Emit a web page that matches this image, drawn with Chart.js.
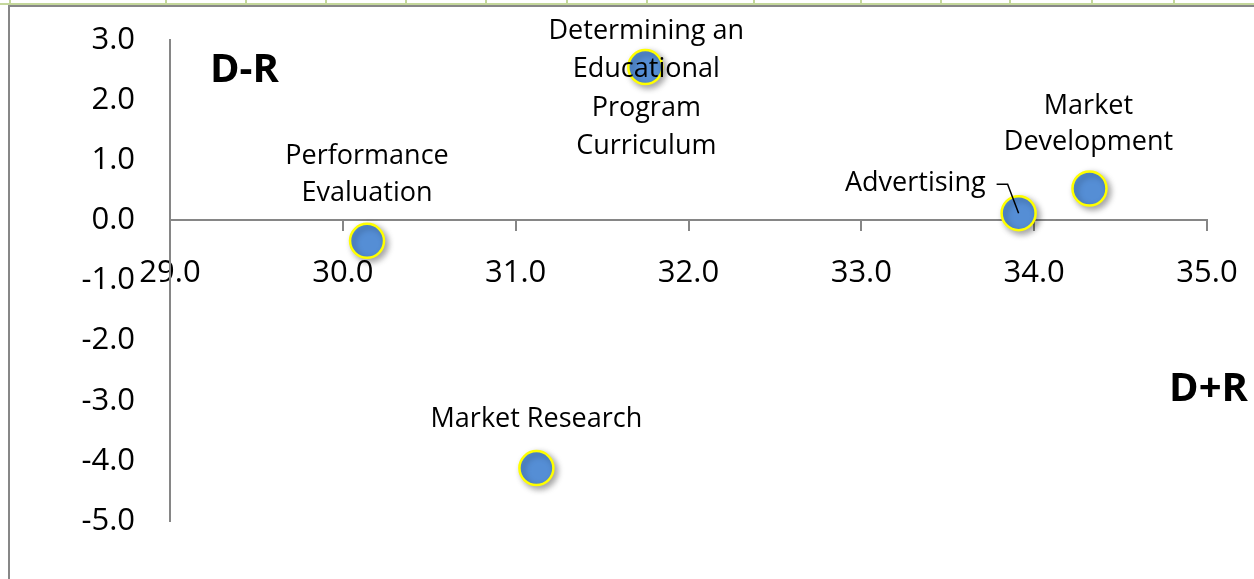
<!DOCTYPE html>
<html lang="en">
<head>
    <meta charset="UTF-8">
    <title>D+R / D-R Scatter</title>
    <style>
        html, body { margin: 0; padding: 0; background: #fff; }
        .chart-box { position: relative; width: 1254px; height: 579px; }
    </style>
</head>
<body>
    <div class="chart-box">
        <canvas id="drChart"></canvas>
    </div>

    <script src="https://cdn.jsdelivr.net/npm/chart.js"></script>
    <script>
        // Factor names (one entry per text line) and their D+R / D-R scores
        const factorNames = [
            ['Performance', 'Evaluation'],
            ['Market Research'],
            ['Determining an', 'Educational', 'Program', 'Curriculum'],
            ['Advertising'],
            ['Market', 'Development']
        ];
        const dPlusR = [30.14, 31.12, 31.75, 33.91, 34.32];
        const dMinusR = [-0.34, -4.12, 2.55, 0.12, 0.53];

        // Axis ranges
        const xMin = 29, xMax = 35;
        const yMin = -5, yMax = 3;

        const labelFont = '27px "Open Sans"';
        const tickFont = { family: 'Open Sans', size: 31 };

        // Where each name sits relative to its point
        const labelPlacement = [
            { dx: 0, dy: -85, gap: 37, align: 'center' },
            { dx: 0, dy: -49, gap: 37, align: 'center' },
            { dx: 1, dy: -36, gap: 38.5, align: 'center' },
            { dx: -33, dy: -30, gap: 37, align: 'right', leader: true },
            { dx: -1, dy: -82, gap: 35.5, align: 'center' }
        ];

        // keep the axes from pushing the plot area around
        function noScalePadding(scale) {
            scale.paddingTop = 0;
            scale.paddingBottom = 0;
            scale.paddingLeft = 0;
            scale.paddingRight = 0;
        }

        // Sheet border and column separators behind the chart
        const sheetFrame = {
            id: 'sheetFrame',
            beforeDraw(chart) {
                const ctx = chart.ctx;
                const w = chart.width, h = chart.height;
                ctx.save();
                ctx.fillStyle = '#fff';
                ctx.fillRect(0, 0, w, h);
                ctx.strokeStyle = '#c4d79b';
                ctx.lineWidth = 2;
                ctx.beginPath();
                ctx.moveTo(0, 4); ctx.lineTo(w, 4);
                [10, 166, 246, 326, 406, 486, 567, 647, 754, 861, 941, 1010, 1092, 1174].forEach(x => {
                    ctx.moveTo(x, 0); ctx.lineTo(x, 4);
                });
                ctx.stroke();
                ctx.strokeStyle = '#878787';
                ctx.beginPath();
                ctx.moveTo(8, 6); ctx.lineTo(w, 6);
                ctx.moveTo(9, 5); ctx.lineTo(9, h);
                ctx.stroke();
                ctx.restore();
            }
        };

        // Soft drop shadow under the bubbles
        const pointShadow = {
            id: 'pointShadow',
            beforeDatasetsDraw(chart) {
                const ctx = chart.ctx;
                ctx.save();
                ctx.shadowColor = 'rgba(0, 0, 0, 0.35)';
                ctx.shadowBlur = 6;
                ctx.shadowOffsetX = 3;
                ctx.shadowOffsetY = 3;
            },
            afterDatasetsDraw(chart) {
                chart.ctx.restore();
            }
        };

        // Point names, leader line and the axis captions
        const pointLabels = {
            id: 'pointLabels',
            afterDatasetsDraw(chart) {
                const ctx = chart.ctx;
                const meta = chart.getDatasetMeta(0);
                const area = chart.chartArea;
                ctx.save();
                ctx.fillStyle = '#000';
                ctx.font = labelFont;
                ctx.textBaseline = 'middle';
                meta.data.forEach((pt, i) => {
                    const p = labelPlacement[i];
                    ctx.textAlign = p.align;
                    factorNames[i].forEach((line, k) => {
                        ctx.fillText(line, pt.x + p.dx, pt.y + p.dy + k * p.gap);
                    });
                    if (p.leader) {
                        ctx.strokeStyle = '#000';
                        ctx.lineWidth = 1.5;
                        ctx.beginPath();
                        ctx.moveTo(pt.x + p.dx + 11, pt.y + p.dy + 1);
                        ctx.lineTo(pt.x + p.dx + 22, pt.y + p.dy + 1);
                        ctx.lineTo(pt.x, pt.y);
                        ctx.stroke();
                    }
                });
                ctx.font = 'bold 40px "Open Sans"';
                ctx.textAlign = 'left';
                ctx.fillText('D-R', area.left + 40, area.top + 31);
                ctx.textAlign = 'right';
                ctx.fillText('D+R', area.right + 41, area.top + 350);
                ctx.restore();
            }
        };

        const ctx = document.getElementById('drChart').getContext('2d');
        const drChart = new Chart(ctx, {
            type: 'scatter',
            data: {
                datasets: [{
                    data: dPlusR.map((x, i) => ({ x: x, y: dMinusR[i] })),
                    backgroundColor: '#558ed5',
                    borderColor: '#ffff00',
                    borderWidth: 2.5,
                    pointRadius: 17,
                    pointHoverRadius: 17
                }]
            },
            options: {
                responsive: true,
                maintainAspectRatio: false,
                animation: false,
                events: [],
                layout: {
                    padding: { top: 40, right: 47, bottom: 58, left: 0 }
                },
                plugins: {
                    legend: { display: false },
                    tooltip: { enabled: false }
                },
                scales: {
                    x: {
                        type: 'linear',
                        position: { y: 0 },
                        min: xMin,
                        max: xMax,
                        afterFit(scale) { scale.height = 0; noScalePadding(scale); },
                        border: { display: true, color: '#868686', width: 2 },
                        grid: { drawOnChartArea: false, drawTicks: true, tickLength: 10, color: '#868686', lineWidth: 2 },
                        ticks: {
                            stepSize: 1,
                            padding: 24,
                            color: '#000',
                            font: tickFont,
                            callback: v => v.toFixed(1)
                        }
                    },
                    y: {
                        type: 'linear',
                        position: 'left',
                        min: yMin,
                        max: yMax,
                        afterFit(scale) { scale.width = 170; noScalePadding(scale); },
                        border: { display: true, color: '#868686', width: 2 },
                        grid: { drawOnChartArea: false, drawTicks: false },
                        ticks: {
                            stepSize: 1,
                            padding: 35,
                            color: '#000',
                            font: tickFont,
                            callback: v => v.toFixed(1)
                        }
                    }
                }
            },
            plugins: [sheetFrame, pointShadow, pointLabels]
        });
    </script>
</body>
</html>
